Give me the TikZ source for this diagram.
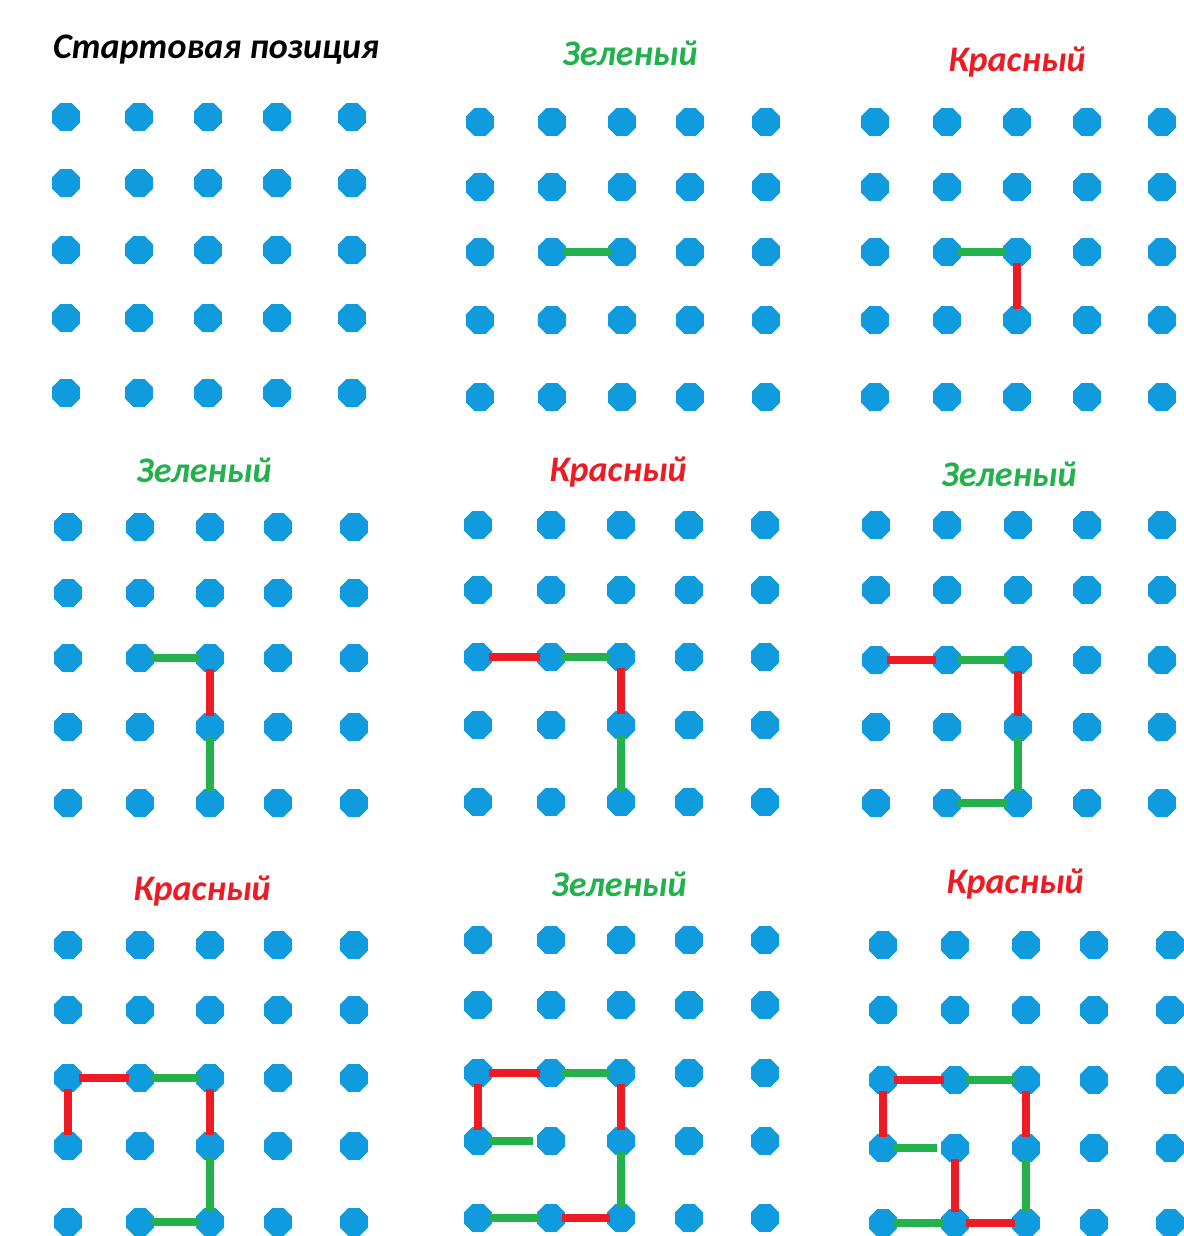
\documentclass[tikz,border=0pt]{standalone}
\usepackage{fontspec}
\setmainfont{Carlito}
\usetikzlibrary{shapes.geometric}
\definecolor{pegblue}{RGB}{16,155,222}
\definecolor{movegreen}{RGB}{34,177,76}
\definecolor{movered}{RGB}{237,28,36}

\begin{document}
\begin{tikzpicture}[x=1pt, y=-1pt, font=\bfseries\itshape\fontsize{36}{42}\selectfont]
  \tikzstyle{peg}=[regular polygon, regular polygon sides=8, fill=pegblue,
                   inner sep=0pt, minimum size=30pt]
  \tikzstyle{ttl}=[anchor=base, inner sep=0pt]
  \tikzstyle{greenmove}=[draw=movegreen, line width=8pt, shorten <=-3pt, shorten >=-3pt]
  \tikzstyle{redmove}=[draw=movered, line width=8pt, shorten <=-3pt, shorten >=-3pt]

  \path[use as bounding box, fill=white] (0,0) rectangle (1183,1236);

  % --- dots: 9 boards of 5x5 ---
  \foreach \p/\xs/\ys in {
      1/{66,139,208,277,352}/{117,183,250,318,393},
      2/{480,552,622,690,766}/{122,187,252,320,397},
      3/{875,947,1017,1087,1162}/{122,187,252,320,397},
      4/{68,140,210,278,354}/{527,593,658,727,803},
      5/{478,551,621,689,765}/{525,590,657,725,802},
      6/{876,947,1018,1087,1162}/{525,590,660,727,803},
      7/{68,140,210,278,354}/{945,1010,1078,1146,1222},
      8/{478,551,621,689,765}/{940,1005,1073,1141,1218},
      9/{883,955,1026,1094,1170}/{945,1010,1080,1148,1223}}
    \foreach \x [count=\i] in \xs
      \foreach \y [count=\j] in \ys
        \node[peg] (p\p-\i-\j) at (\x,\y) {};

  % --- titles ---
  \node[ttl] (t1) at (216,59) {Стартовая позиция};
  \node[ttl, text=movegreen] (t2) at (630,66) {Зеленый};
  \node[ttl, text=movered] (t3) at (1017,72) {Красный};
  \node[ttl, text=movegreen] (t4) at (204,482) {Зеленый};
  \node[ttl, text=movered] (t5) at (618,481) {Красный};
  \node[ttl, text=movegreen] (t6) at (1009,486) {Зеленый};
  \node[ttl, text=movered] (t7) at (202,900) {Красный};
  \node[ttl, text=movegreen] (t8) at (619,896) {Зеленый};
  \node[ttl, text=movered] (t9) at (1015,893) {Красный};

  % --- board 2 ---
  \draw[greenmove] (p2-2-3) -- (p2-3-3);

  % --- board 3 ---
  \draw[greenmove] (p3-2-3) -- (p3-3-3);
  \draw[redmove] (p3-3-3) -- (p3-3-4);

  % --- board 4 ---
  \draw[greenmove] (p4-2-3) -- (p4-3-3);
  \draw[redmove] (p4-3-3) -- (p4-3-4);
  \draw[greenmove] (p4-3-4) -- (p4-3-5);

  % --- board 5 ---
  \draw[redmove] (p5-1-3) -- (p5-2-3);
  \draw[greenmove] (p5-2-3) -- (p5-3-3);
  \draw[redmove] (p5-3-3) -- (p5-3-4);
  \draw[greenmove] (p5-3-4) -- (p5-3-5);

  % --- board 6 ---
  \draw[redmove] (p6-1-3) -- (p6-2-3);
  \draw[greenmove] (p6-2-3) -- (p6-3-3);
  \draw[redmove] (p6-3-3) -- (p6-3-4);
  \draw[greenmove] (p6-3-4) -- (p6-3-5);
  \draw[greenmove] (p6-2-5) -- (p6-3-5);

  % --- board 7 ---
  \draw[redmove] (p7-1-3) -- (p7-2-3);
  \draw[greenmove] (p7-2-3) -- (p7-3-3);
  \draw[redmove] (p7-1-3) -- (p7-1-4);
  \draw[redmove] (p7-3-3) -- (p7-3-4);
  \draw[greenmove] (p7-3-4) -- (p7-3-5);
  \draw[greenmove] (p7-2-5) -- (p7-3-5);

  % --- board 8 ---
  \draw[redmove] (p8-1-3) -- (p8-2-3);
  \draw[greenmove] (p8-2-3) -- (p8-3-3);
  \draw[redmove] (p8-1-3) -- (p8-1-4);
  \draw[greenmove, shorten >=4pt] (p8-1-4) -- (p8-2-4);
  \draw[redmove] (p8-3-3) -- (p8-3-4);
  \draw[greenmove] (p8-3-4) -- (p8-3-5);
  \draw[greenmove] (p8-1-5) -- (p8-2-5);
  \draw[redmove] (p8-2-5) -- (p8-3-5);

  % --- board 9 ---
  \draw[redmove] (p9-1-3) -- (p9-2-3);
  \draw[greenmove] (p9-2-3) -- (p9-3-3);
  \draw[redmove] (p9-1-3) -- (p9-1-4);
  \draw[greenmove, shorten >=4pt] (p9-1-4) -- (p9-2-4);
  \draw[redmove] (p9-2-4) -- (p9-2-5);
  \draw[redmove] (p9-3-3) -- (p9-3-4);
  \draw[greenmove] (p9-3-4) -- (p9-3-5);
  \draw[greenmove] (p9-1-5) -- (p9-2-5);
  \draw[redmove] (p9-2-5) -- (p9-3-5);
\end{tikzpicture}
\end{document}
